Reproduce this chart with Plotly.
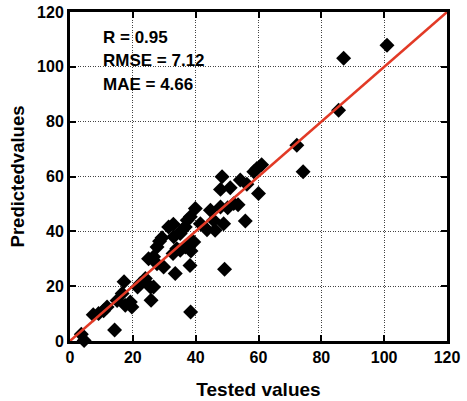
import plotly.graph_objects as go

tested = [4.5, 3.6, 7.4, 9.1, 10.7, 11.8, 14.2, 17.2, 16.6, 15.0, 17.6, 19.7, 19.2, 21.5, 22.4,
          24.0, 25.6, 26.6, 25.8, 25.0, 26.6, 27.7, 28.5, 29.3, 29.8, 27.7, 31.4, 32.9, 33.5,
          32.8, 34.0, 35.1, 35.6, 36.7, 36.7, 38.4, 38.2, 38.5, 38.8, 38.3, 39.9, 37.3, 41.5,
          43.6, 44.7, 45.7, 46.2, 47.9, 48.4, 47.9, 48.9, 49.2, 51.0, 50.2, 52.1, 53.5, 54.2,
          56.3, 55.8, 58.5, 59.5, 61.0, 60.0, 72.2, 74.2, 85.5, 87.1, 100.9, 33.0, 35.1, 39.4]
predicted = [0.2, 2.5, 9.6, 10.0, 11.0, 12.4, 4.0, 21.6, 17.3, 14.8, 13.0, 12.4, 14.2, 19.7, 21.0,
             22.8, 19.7, 19.7, 14.9, 30.0, 30.7, 34.3, 36.4, 37.7, 27.0, 28.2, 41.6, 42.6, 24.6,
             31.9, 33.7, 39.2, 40.4, 34.3, 41.6, 10.6, 27.5, 32.8, 36.1, 45.3, 48.3, 44.0, 42.8,
             40.6, 47.7, 44.0, 40.4, 48.9, 59.9, 55.3, 42.8, 26.2, 55.9, 48.6, 50.1, 49.7, 58.7,
             57.2, 43.8, 61.7, 62.9, 64.3, 53.8, 71.4, 61.7, 84.2, 103.1, 107.9, 38.0, 33.1, 36.1]

fit_x = [0, 120]
fit_y = [0, 120]

stats_labels = ["R = 0.95", "RMSE = 7.12", "MAE = 4.66"]
stats_y = [110.8, 102.2, 93.7]

ticks = [0, 20, 40, 60, 80, 100, 120]

FONT = "Arial, Liberation Sans, sans-serif"

fig = go.Figure()
fig.add_trace(go.Scatter(
    x=tested, y=predicted, mode="markers",
    marker=dict(symbol="diamond", size=11.5, color="black", line=dict(width=0)),
    showlegend=False, cliponaxis=False))
fig.add_trace(go.Scatter(
    x=fit_x, y=fit_y, mode="lines",
    line=dict(color="#e23a26", width=2.5), showlegend=False))

for lab, yy in zip(stats_labels, stats_y):
    fig.add_annotation(x=9.9, y=yy, text=lab, showarrow=False, xanchor="left", yanchor="middle",
                       font=dict(family=FONT, size=17, color="black", weight="bold"))

axis_common = dict(
    range=[0, 120], tickvals=ticks, ticks="inside", ticklen=6, tickwidth=1.5, tickcolor="black",
    showgrid=True, gridcolor="#444444", griddash="1px,1.5px", gridwidth=1,
    showline=True, linecolor="black", linewidth=3, mirror="ticks", zeroline=False,
    tickfont=dict(family=FONT, size=16, color="black", weight="bold"),
    automargin=False,
)

fig.update_xaxes(**axis_common,
                 title=dict(text="Tested values", font=dict(family=FONT, size=19, color="black", weight="bold"),
                            standoff=18))
fig.update_yaxes(**axis_common,
                 title=dict(text="Predictedvalues", font=dict(family=FONT, size=18.5, color="black", weight="bold"),
                            standoff=8))

fig.update_layout(
    width=467, height=401,
    margin=dict(l=70, r=20, t=12, b=60),
    plot_bgcolor="white", paper_bgcolor="white",
)

fig.write_html("out.html")
